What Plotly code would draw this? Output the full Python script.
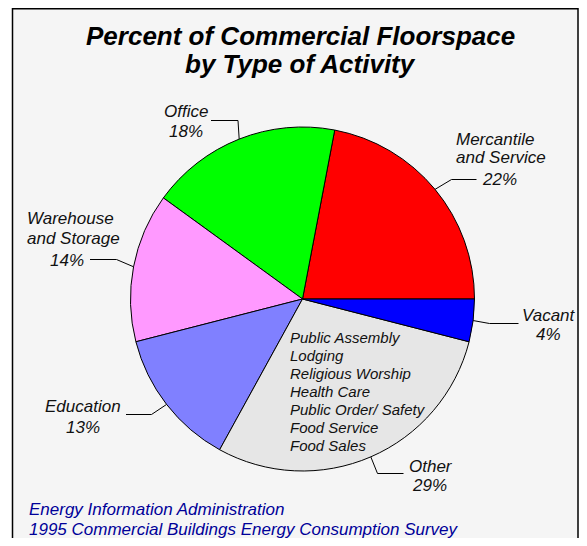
import math
import plotly.graph_objects as go

# ---- data ----
categories = ["Mercantile and Service", "Office", "Warehouse and Storage",
              "Education", "Other", "Vacant"]
values = [22, 18, 14, 13, 29, 4]
colors = ["#FF0000", "#00FF00", "#FF99FF", "#8080FF", "#E6E6E6", "#0000FF"]
other_components = ["Public Assembly", "Lodging", "Religious Worship", "Health Care",
                    "Public Order/ Safety", "Food Service", "Food Sales"]
title_lines = ["Percent of Commercial Floorspace", "by Type of Activity"]
source_lines = ["Energy Information Administration",
                "1995 Commercial Buildings Energy Consumption Survey"]

# page has an 8px body margin: keep the figure inside the window (no scrollbars)
OFF = 8
W, H = 587 - OFF, 546 - 2 * OFF
CX, CY, R = 302.5, 299.0, 172.0
FONT = "Arial, Liberation Sans, sans-serif"


def px(x):
    return (x - OFF) / W


def py(y):
    return 1 - (y - OFF) / H


total = sum(values)
# plotly: for counterclockwise pies the first slice ends at `rotation`;
# we want it to start at 3 o'clock
rotation = 90 - 360.0 * values[0] / total

fig = go.Figure(go.Pie(
    labels=categories, values=values, sort=False, direction="counterclockwise",
    rotation=rotation, textinfo="none", hoverinfo="label+percent",
    marker=dict(colors=colors, line=dict(color="black", width=1)),
    domain=dict(x=[px(CX - R), px(CX + R)], y=[py(CY + R), py(CY - R)]),
    showlegend=False,
))

annotations = []
shapes = []

# frame
shapes.append(dict(type="rect", xref="paper", yref="paper",
                   x0=px(12.5), x1=px(578.0), y0=-0.02, y1=py(8.7),
                   line=dict(color="black", width=1.5), fillcolor="#F5F5F5",
                   layer="below"))


def text(t, x, y, size=17, anchor="center", color="#111111", bold=False):
    annotations.append(dict(
        text=t, x=px(x), y=py(y), xref="paper", yref="paper",
        xanchor=anchor, yanchor="middle", showarrow=False,
        font=dict(family=FONT, size=size, color=color, style="italic",
                  weight="bold" if bold else "normal")))


# title
text(title_lines[0], 300, 35.5, size=26, bold=True, color="black")
text(title_lines[1], 300, 64, size=26, bold=True, color="black")

cum = 0
mids = []
for v in values:
    mids.append((cum + v / 2) / total * 360.0)
    cum += v

pct = [f"{v}%" for v in values]
label_specs = [
    # Mercantile
    ([("Mercantile", 454, 139, "left"), ("and Service", 454, 157.5, "left"),
      (pct[0], 480, 180, "left")], (476.5, 179.5), (451.5, 179.5)),
    # Office
    ([("Office", 186, 111, "center"), (pct[1], 185.5, 131, "center")],
     (211, 120.5), (238, 120.5)),
    # Warehouse
    ([("Warehouse", 25, 218, "left"), ("and Storage", 25, 238, "left"),
      (pct[2], 86, 260.5, "right")], (90, 259.5), (116.5, 259.5)),
    # Education
    ([("Education", 83, 406, "center"), (pct[3], 83, 427, "center")],
     (126, 414.5), (151.5, 414.5)),
    # Other
    ([("Other", 431, 466, "center"), (pct[4], 429.5, 485, "center")],
     (403.5, 473.5), (377.5, 473.5)),
    # Vacant
    ([("Vacant", 549, 315, "center"), (pct[5], 548.5, 334.5, "center")],
     (518.5, 323.5), (489.5, 323.5)),
]

for (lines, p0, p1), ang in zip(label_specs, mids):
    for t, x, y, a in lines:
        text(t, x, y, anchor=a)
    ex = CX + R * math.cos(math.radians(ang))
    ey = CY - R * math.sin(math.radians(ang))
    path = f"M {px(p0[0])},{py(p0[1])} L {px(p1[0])},{py(p1[1])} L {px(ex)},{py(ey)}"
    shapes.append(dict(type="path", xref="paper", yref="paper", path=path,
                       line=dict(color="black", width=1)))

# components of "Other"
for i, t in enumerate(other_components):
    text(t, 288.3, 337.2 + i * 18.05, size=15, anchor="left")

# source
text(source_lines[0], 27, 509.5, size=17, anchor="left", color="#000099")
text(source_lines[1], 27, 529.0, size=17, anchor="left", color="#000099")

fig.update_layout(
    width=W, height=H, margin=dict(l=0, r=0, t=0, b=0),
    paper_bgcolor="white", plot_bgcolor="white",
    annotations=annotations, shapes=shapes,
)
fig.write_html("out.html")
